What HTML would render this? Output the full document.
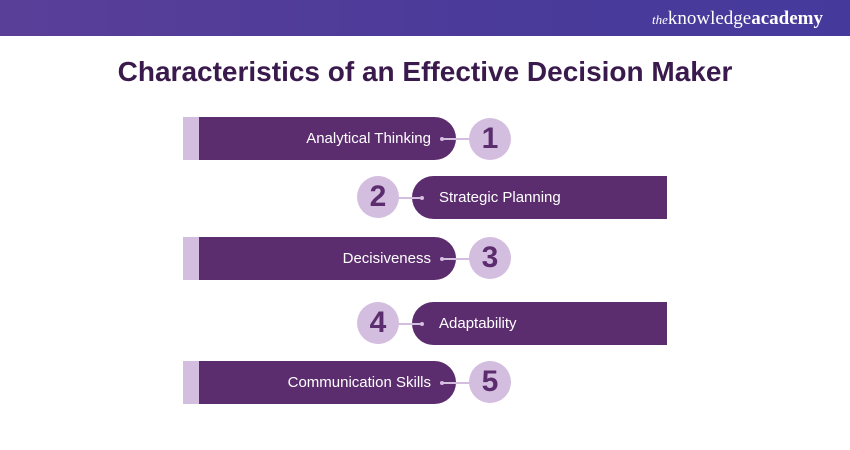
<!DOCTYPE html>
<html><head><style>
body{margin:0;width:850px;height:450px;background:#fff;position:relative;overflow:hidden;font-family:"Liberation Sans",sans-serif}
.hdr{position:absolute;left:0;top:0;width:850px;height:36px;background:linear-gradient(90deg,#5a3f98,#4a3a9a 60%,#453a9c)}
.logo{position:absolute;right:27px;top:8px;color:#fff;font-family:"Liberation Serif",serif;font-size:19px}
.logo i{font-size:13px}
h1{position:absolute;top:56px;left:0;width:850px;text-align:center;margin:0;font-size:28px;color:#3a1a4c;font-weight:bold}
.strip{position:absolute;width:17px;background:#d4bedf}
.bar{position:absolute;background:#5b2d6e;color:#fff;font-size:15px;display:flex;align-items:center}
.L{border-radius:0 22px 22px 0;justify-content:flex-end;padding-right:25px;box-sizing:border-box}
.R{border-radius:22px 0 0 22px;padding-left:27px;box-sizing:border-box}
.c{position:absolute;width:42px;height:42px;border-radius:50%;background:#d4bedf;color:#5b2d6e;font-weight:bold;font-size:30px;text-align:center;line-height:42px}
.ln{position:absolute;height:1.5px;background:#d4bedf}
.dot{position:absolute;width:4px;height:4px;border-radius:50%;background:#d4bedf}
</style></head><body>
<div class="hdr"><div class="logo"><i>the</i>knowledge<b>academy</b></div></div>
<h1>Characteristics of an Effective Decision Maker</h1>

<div class="strip" style="left:183px;top:117px;height:43px"></div>
<div class="bar L" style="left:199px;top:117px;width:257px;height:43px">Analytical Thinking</div>
<div class="ln" style="left:442px;top:138px;width:28px"></div><div class="dot" style="left:440px;top:137px"></div>
<div class="c" style="left:469px;top:118px">1</div>

<div class="c" style="left:357px;top:176px">2</div>
<div class="bar R" style="left:412px;top:176px;width:255px;height:43px">Strategic Planning</div>
<div class="ln" style="left:398px;top:197px;width:24px"></div><div class="dot" style="left:420px;top:196px"></div>

<div class="strip" style="left:183px;top:237px;height:43px"></div>
<div class="bar L" style="left:199px;top:237px;width:257px;height:43px">Decisiveness</div>
<div class="ln" style="left:442px;top:258px;width:28px"></div><div class="dot" style="left:440px;top:257px"></div>
<div class="c" style="left:469px;top:237px">3</div>

<div class="c" style="left:357px;top:302px">4</div>
<div class="bar R" style="left:412px;top:302px;width:255px;height:43px">Adaptability</div>
<div class="ln" style="left:398px;top:323px;width:24px"></div><div class="dot" style="left:420px;top:322px"></div>

<div class="strip" style="left:183px;top:361px;height:43px"></div>
<div class="bar L" style="left:199px;top:361px;width:257px;height:43px">Communication Skills</div>
<div class="ln" style="left:442px;top:382px;width:28px"></div><div class="dot" style="left:440px;top:381px"></div>
<div class="c" style="left:469px;top:361px">5</div>
</body></html>
